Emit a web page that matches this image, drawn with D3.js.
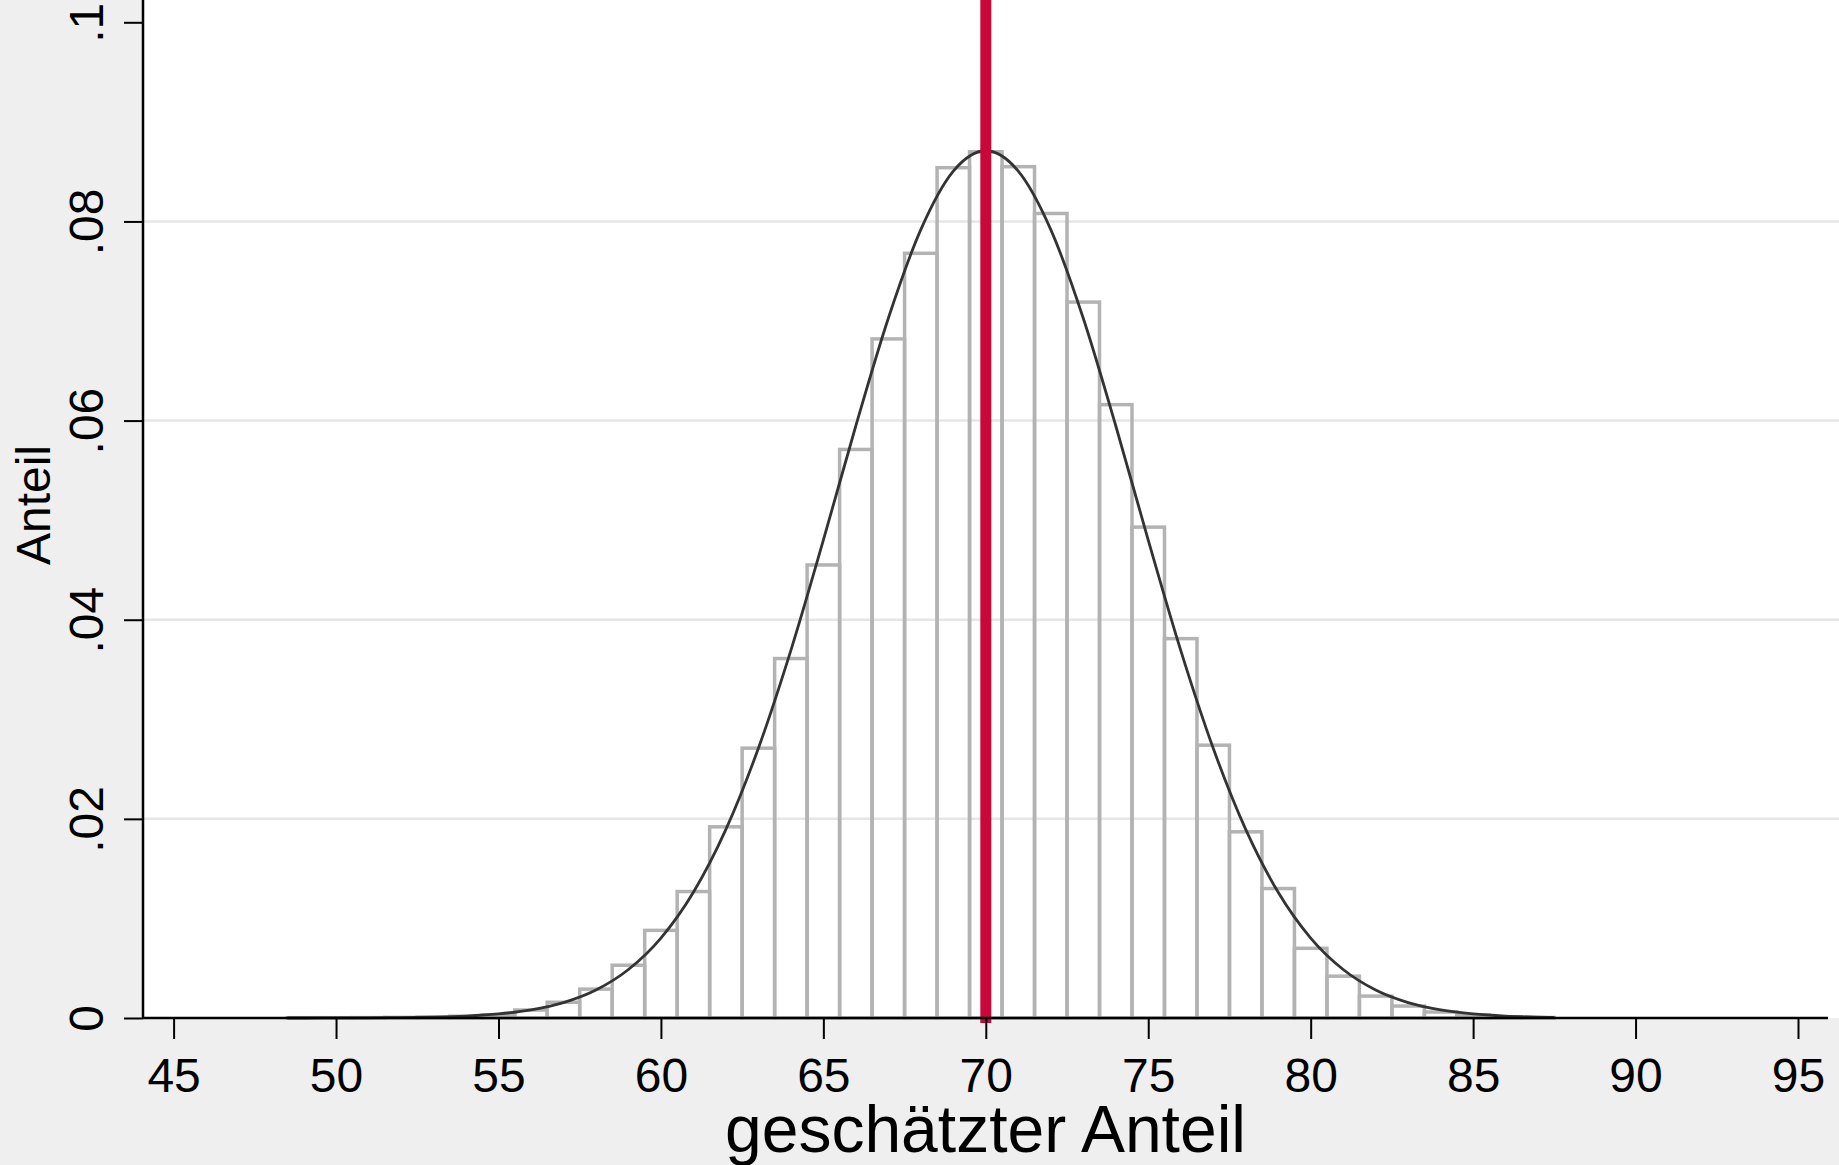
<!DOCTYPE html>
<html>
<head>
<meta charset="utf-8">
<script src="https://cdn.jsdelivr.net/npm/d3@7"></script>
<style>
  html, body { margin: 0; padding: 0; background: #efefef; }
  svg { display: block; }
  text { font-family: "Liberation Sans", Arial, sans-serif; fill: #000; }
</style>
</head>
<body>
<svg id="chart" width="1839" height="1165"></svg>
<script>
// ---- Data ----
const binCenters = [49,50,51,52,53,54,55,56,57,58,59,60,61,62,63,64,65,66,67,68,69,70,71,72,73,74,75,76,77,78,79,80,81,82,83,84,85,86,87];
const binValues  = [0.00003,0.00003,0.00004,0.00006,0.0001,0.00018,0.0003,0.0008,0.00158,0.0029,0.0053,0.0088,0.0127,0.0192,0.0271,0.0361,0.0455,0.0571,0.0682,0.0768,0.0854,0.0870,0.0855,0.0808,0.0719,0.0616,0.0493,0.0381,0.0274,0.0187,0.0130,0.0070,0.0042,0.0022,0.0012,0.0006,0.0003,0.00012,0.00005];
const binWidth = 1;

const curveX = [48.5,49,50,51,52,53,54,55,56,57,58,59,60,61,62,63,64,65,66,67,68,69,70,71,72,73,74,75,76,77,78,79,80,81,82,83,84,85,86,87,87.5];
const curveY = [0.0000015,0.0000024,0.0000064,0.000016,0.000039,0.000089,0.000195,0.00041,0.00082,0.00155,0.00281,0.00487,0.00803,0.01263,0.01894,0.02709,0.03692,0.04799,0.05948,0.07028,0.07918,0.08505,0.0871,0.08505,0.07918,0.07028,0.05948,0.04799,0.03692,0.02709,0.01894,0.01263,0.00803,0.00487,0.00281,0.00155,0.00082,0.00041,0.000195,0.000089,0.000056];

const refValue = 70;

const xTicks = [45,50,55,60,65,70,75,80,85,90,95];
const yTicks = [0,0.02,0.04,0.06,0.08,0.1];
const yTickLabels = ["0",".02",".04",".06",".08",".1"];
const gridTicks = [0.02,0.04,0.06,0.08];

const xTitle = "geschätzter Anteil";
const yTitle = "Anteil";

// ---- Layout ----
const W = 1839, H = 1165;
const plotLeft = 143, plotBottom = 1018, plotRight = 1828;

const x = d3.scaleLinear().domain([45, 95]).range([173.6, 1798]);
const y = d3.scaleLinear().domain([0, 0.1]).range([1018, 22.3]);

const svg = d3.select("#chart");

svg.append("rect").attr("x",0).attr("y",0).attr("width",W).attr("height",H).attr("fill","#efefef");
svg.append("rect").attr("x",plotLeft).attr("y",0).attr("width",W-plotLeft).attr("height",plotBottom).attr("fill","#ffffff");

// gridlines
svg.append("g").selectAll("line").data(gridTicks).join("line")
  .attr("x1", plotLeft).attr("x2", W)
  .attr("y1", d => y(d)).attr("y2", d => y(d))
  .attr("stroke", "#e6e6e6").attr("stroke-width", 2.5);

// histogram bars
svg.append("g").selectAll("rect").data(binCenters.map((c,i)=>({c, v: binValues[i]}))).join("rect")
  .attr("x", d => x(d.c - binWidth/2))
  .attr("width", d => x(d.c + binWidth/2) - x(d.c - binWidth/2))
  .attr("y", d => y(d.v))
  .attr("height", d => y(0) - y(d.v))
  .attr("fill", "none")
  .attr("stroke", "#b3b3b3")
  .attr("stroke-width", 3.5);

// normal curve
const line = d3.line().x(d => x(d[0])).y(d => y(d[1])).curve(d3.curveMonotoneX);
svg.append("path")
  .datum(curveX.map((v,i)=>[v, curveY[i]]))
  .attr("d", line)
  .attr("fill","none")
  .attr("stroke","#333333")
  .attr("stroke-width", 2.8)
  .attr("stroke-linejoin","round");

// reference line
svg.append("line")
  .attr("x1", x(refValue)).attr("x2", x(refValue))
  .attr("y1", 0).attr("y2", 1023)
  .attr("stroke", "#c8073b").attr("stroke-width", 11);

// x axis
const xAxisG = svg.append("g").attr("transform", `translate(0,${plotBottom})`);
xAxisG.call(d3.axisBottom(x).tickValues(xTicks).tickSize(21).tickPadding(0).tickFormat(d3.format("d")));
xAxisG.select(".domain").remove();
xAxisG.selectAll(".tick line").attr("stroke","#000").attr("stroke-width",2);
xAxisG.selectAll(".tick text")
  .attr("y", 74).attr("dy", null)
  .style("font-size","48px")
  .style("font-family","'Liberation Sans', Arial, sans-serif")
  .attr("fill","#000");
svg.append("line").attr("x1", plotLeft).attr("x2", plotRight)
  .attr("y1", plotBottom).attr("y2", plotBottom)
  .attr("stroke","#000").attr("stroke-width",2.5);

// y axis
const yAxisG = svg.append("g").attr("transform", `translate(${plotLeft},0)`);
yAxisG.call(d3.axisLeft(y).tickValues(yTicks).tickSize(19).tickFormat((d,i)=>yTickLabels[i]));
yAxisG.select(".domain").remove();
yAxisG.selectAll(".tick line").attr("stroke","#000").attr("stroke-width",2);
yAxisG.selectAll(".tick text")
  .attr("x", null).attr("dy", null)
  .attr("transform", "translate(-40,0) rotate(-90)")
  .attr("text-anchor","middle")
  .style("font-size","48px")
  .style("font-family","'Liberation Sans', Arial, sans-serif")
  .attr("fill","#000");
svg.append("line").attr("x1", plotLeft).attr("x2", plotLeft)
  .attr("y1", 0).attr("y2", plotBottom)
  .attr("stroke","#000").attr("stroke-width",2.5);

// titles
svg.append("text")
  .attr("x", (plotLeft + plotRight)/2).attr("y", 1152)
  .attr("text-anchor","middle")
  .style("font-size","66px")
  .text(xTitle);

svg.append("text")
  .attr("transform", "translate(50,505) rotate(-90)")
  .attr("text-anchor","middle")
  .style("font-size","48px")
  .text(yTitle);
</script>
</body>
</html>
